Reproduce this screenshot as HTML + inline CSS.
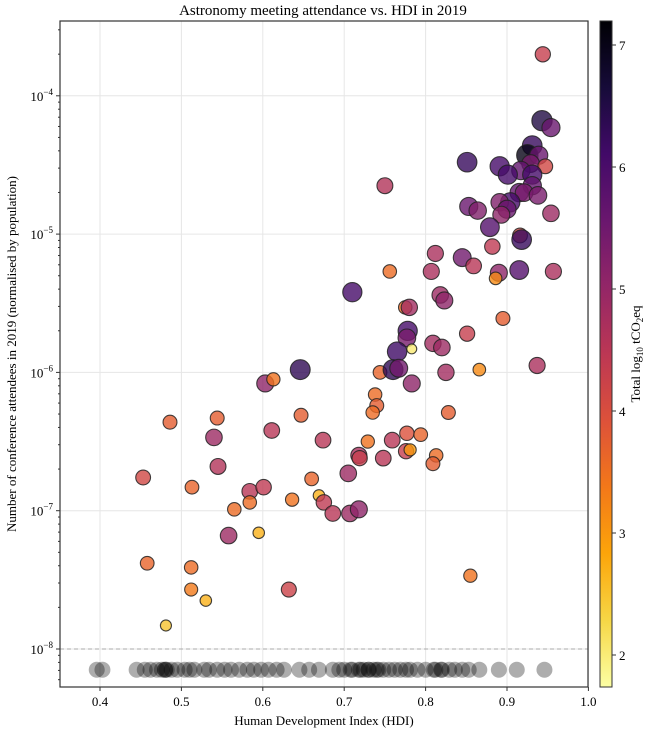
<!DOCTYPE html>
<html><head><meta charset="utf-8"><style>
html,body{margin:0;padding:0;background:#fff;}
svg{display:block;font-family:"Liberation Serif",serif;}
</style></head><body>
<svg id="chart" width="647" height="732" viewBox="0 0 647 732" xmlns="http://www.w3.org/2000/svg">
<defs><linearGradient id="cbg" x1="0" y1="1" x2="0" y2="0">
<stop offset="0" stop-color="#fcffa4"/><stop offset="0.1" stop-color="#f6d746"/><stop offset="0.2" stop-color="#fca50a"/><stop offset="0.3" stop-color="#f37819"/><stop offset="0.4" stop-color="#dd513a"/><stop offset="0.5" stop-color="#bc3754"/><stop offset="0.6" stop-color="#932667"/><stop offset="0.7" stop-color="#6a176e"/><stop offset="0.8" stop-color="#420a68"/><stop offset="0.9" stop-color="#160b39"/><stop offset="1" stop-color="#000004"/>
</linearGradient></defs>
<text x="323" y="15" text-anchor="middle" font-size="15">Astronomy meeting attendance vs. HDI in 2019</text>
<g id="grid"></g><g id="zero"></g><g id="pts"></g><g id="axes"></g>
<text x="324" y="725" text-anchor="middle" font-size="13">Human Development Index (HDI)</text>
<text transform="translate(16,354) rotate(-90)" text-anchor="middle" font-size="13">Number of conference attendees in 2019 (normalised by population)</text>
<rect x="600" y="21" width="12" height="666" fill="url(#cbg)" stroke="#333" stroke-width="1"/>
<g id="cbticks"></g>
<text transform="translate(640,354) rotate(-90)" text-anchor="middle" font-size="13">Total log<tspan font-size="9" dy="3">10</tspan><tspan dy="-3"> tCO</tspan><tspan font-size="9" dy="3">2</tspan><tspan dy="-3">eq</tspan></text>
</svg>
<script>
const hdi=[.944,.943,.954,.931,.925,.939,.929,.947,.917,.931,.851,.891,.901,.931,.915,.921,.938,.904,.891,.900,.893,.853,.864,.954,.879,.916,.918,.882,.750,.812,.845,.859,.756,.807,.890,.886,.915,.957,.710,.818,.823,.775,.780,.895,.851,.778,.777,.783,.765,.809,.820,.937,.646,.744,.760,.767,.825,.866,.783,.738,.740,.735,.647,.828,.603,.613,.486,.544,.540,.611,.674,.545,.453,.513,.584,.601,.565,.584,.636,.669,.675,.686,.707,.718,.558,.595,.458,.512,.512,.530,.481,.632,.855,.729,.759,.777,.718,.719,.748,.776,.781,.813,.809,.660,.705,.794];
const logAtt=[-3.70,-4.18,-4.23,-4.36,-4.43,-4.43,-4.49,-4.51,-4.54,-4.57,-4.48,-4.51,-4.57,-4.65,-4.70,-4.70,-4.72,-4.77,-4.77,-4.82,-4.86,-4.80,-4.83,-4.85,-4.95,-5.01,-5.04,-5.09,-4.65,-5.14,-5.17,-5.23,-5.27,-5.27,-5.28,-5.32,-5.26,-5.27,-5.42,-5.44,-5.48,-5.53,-5.53,-5.61,-5.72,-5.70,-5.75,-5.83,-5.85,-5.79,-5.82,-5.95,-5.98,-6.00,-5.98,-5.97,-6.00,-5.98,-6.08,-6.16,-6.24,-6.29,-6.31,-6.29,-6.08,-6.05,-6.36,-6.33,-6.47,-6.42,-6.49,-6.68,-6.76,-6.83,-6.86,-6.83,-6.99,-6.94,-6.92,-6.89,-6.94,-7.02,-7.02,-6.99,-7.18,-7.16,-7.38,-7.41,-7.57,-7.65,-7.83,-7.57,-7.47,-6.50,-6.49,-6.44,-6.60,-6.62,-6.62,-6.57,-6.56,-6.60,-6.66,-6.77,-6.73,-6.45];
const co2=[4.2,6.5,5.5,6.2,7.0,5.5,5.3,4.0,5.6,6.0,6.2,6.0,6.0,5.6,5.6,5.3,5.3,6.0,5.2,5.5,5.0,5.5,5.2,4.8,5.8,4.0,6.2,4.3,4.5,4.6,5.4,4.4,3.4,4.6,5.0,3.0,5.8,4.6,6.0,4.8,5.0,3.4,4.7,3.6,4.2,6.0,5.3,1.8,6.1,4.7,4.8,4.6,6.3,3.5,6.3,5.4,4.7,3.0,5.0,3.4,3.6,3.4,3.6,3.6,5.0,3.3,3.6,3.6,4.8,4.4,4.4,4.5,4.0,3.5,4.4,4.3,3.4,3.4,3.3,2.5,4.3,4.4,4.8,5.0,4.8,2.5,3.5,3.4,3.2,2.5,2.3,4.1,3.3,3.3,4.4,3.8,4.6,4.2,4.4,4.2,2.8,3.4,3.6,3.5,4.8,3.5];
const zeroHdi=[.396,.403,.445,.455,.462,.470,.476,.482,.488,.495,.504,.510,.516,.528,.534,.544,.553,.561,.571,.581,.589,.598,.607,.617,.626,.645,.657,.669,.686,.694,.700,.708,.718,.724,.730,.736,.742,.748,.755,.762,.769,.776,.781,.790,.800,.812,.819,.829,.836,.845,.853,.866,.890,.912,.946,.48,.48,.71,.72,.73,.74,.81,.82];
const xTicks=[0.4,0.5,0.6,0.7,0.8,0.9,1.0];
const yTicks=[-8,-7,-6,-5,-4];
const cbTicks=[2,3,4,5,6,7];
const NS="http://www.w3.org/2000/svg";
const L=60,R=588,T=21,B=687;
const X=v=>100+(v-0.4)*814;
const Y=e=>649-(e+8)*138.3;
const CB=c=>655-(c-2)*122;
const stops=[[0,0,4],[22,11,57],[66,10,104],[106,23,110],[147,38,103],[188,55,84],[221,81,58],[243,120,25],[252,165,10],[246,215,70],[252,255,164]];
function cmap(c){let t=1-(c-1.5)/5.7;t=Math.max(0,Math.min(1,t))*10;const i=Math.min(9,Math.floor(t)),f=t-i;const a=stops[i],b=stops[i+1];return `rgb(${a.map((v,k)=>Math.round(v+(b[k]-v)*f)).join(',')})`;}
function mk(tag,attrs,parent){const e=document.createElementNS(NS,tag);for(const k in attrs)e.setAttribute(k,attrs[k]);parent.appendChild(e);return e;}
const grid=document.getElementById('grid'),axes=document.getElementById('axes');
xTicks.forEach(v=>{
 const g=mk('line',{x1:X(v),x2:X(v),y1:T,y2:B,stroke:'#e6e6e6','stroke-width':1},grid);
 
 
 const t=mk('line',{x1:X(v),x2:X(v),y1:B,y2:B+4,stroke:'#333'},axes);
 
 
 const tx=mk('text',{x:X(v),y:B+19,'text-anchor':'middle','font-size':13},axes);
 tx.textContent=v.toFixed(1);
 
 
});
yTicks.forEach(e=>{
 const g=mk('line',{x1:L,x2:R,y1:Y(e),y2:Y(e),stroke:'#e6e6e6','stroke-width':1},grid);
 
 
 const t=mk('line',{x1:L-4,x2:L,y1:Y(e),y2:Y(e),stroke:'#333'},axes);
 
 
 const tx=mk('text',{x:L-7,y:Y(e)+5,'text-anchor':'end','font-size':13},axes);
 tx.innerHTML='10<tspan font-size="9" dy="-6">'+'\u2212'+Math.abs(e)+'</tspan>';
 
 
});
for(let d=-9;d<=-4;d++){for(let m=2;m<=9;m++){const e=d+Math.log10(m);const y=Y(e);if(y<T||y>B)continue;
 const t=mk('line',{x1:L-2,x2:L,y1:y,y2:y,stroke:'#333'},axes);
 
 }}
const dl=mk('line',{x1:L,x2:R,y1:Y(-8),y2:Y(-8),stroke:'#aaa','stroke-dasharray':'4,3'},grid);


const zg=document.getElementById('zero');
zeroHdi.forEach(v=>{
 const c=mk('circle',{cx:X(v),cy:Y(-8.15),r:8,fill:'#000','fill-opacity':0.32},zg);
 
 
});
const pg=document.getElementById('pts');
hdi.forEach((v,i)=>{
 const c=mk('circle',{cx:X(v),cy:Y(logAtt[i]),r:3+1.1*co2[i],fill:cmap(co2[i]),'fill-opacity':0.8,stroke:'#222','stroke-opacity':0.85,'stroke-width':1.1},pg);
 
 
});
const fr=mk('rect',{x:L,y:T,width:R-L,height:B-T,fill:'none',stroke:'#333','stroke-width':1.2},axes);


const cbg=document.getElementById('cbticks');
cbTicks.forEach(c=>{
 const t=mk('line',{x1:612,x2:616,y1:CB(c),y2:CB(c),stroke:'#333'},cbg);
 
 
 const tx=mk('text',{x:619,y:CB(c)+5,'font-size':13},cbg);
 tx.textContent=c;
 
 
});
</script>
</body></html>
